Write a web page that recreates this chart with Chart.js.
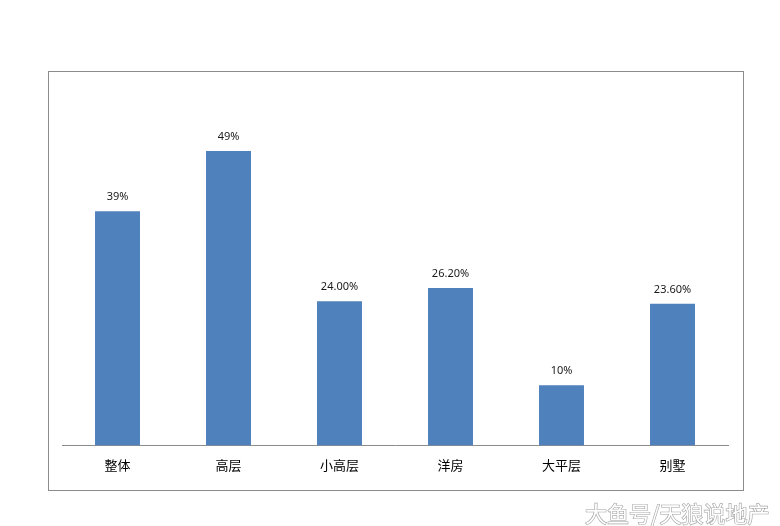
<!DOCTYPE html>
<html>
<head>
<meta charset="utf-8">
<script src="https://cdn.jsdelivr.net/npm/chart.js@4/dist/chart.umd.min.js"></script>
<style>
  html, body { margin: 0; padding: 0; background: #fff; }
  #wrap { position: relative; width: 780px; height: 526px; }
  #frame { position: absolute; left: 48px; top: 71px; width: 694px; height: 418px; border: 1px solid #8c8c8c; box-sizing: content-box; }
  canvas { position: absolute; left: 0; top: 0; }
</style>
</head>
<body>
<div id="wrap">
  <div id="frame"></div>
  <canvas id="chart" width="780" height="526"></canvas>
</div>
<script>
  const categories = ['整体', '高层', '小高层', '洋房', '大平层', '别墅'];
  const shares = [39, 49, 24.0, 26.2, 10, 23.6];
  const shareLabels = ['39%', '49%', '24.00%', '26.20%', '10%', '23.60%'];
  const watermark = '大鱼号/天狼说地产';

  const barLabels = {
    id: 'barLabels',
    afterDatasetsDraw(chart) {
      const ctx = chart.ctx;
      const meta = chart.getDatasetMeta(0);
      ctx.save();
      ctx.font = '11px "Noto Sans", "DejaVu Sans", sans-serif';
      ctx.fillStyle = '#1a1a1a';
      ctx.textAlign = 'center';
      ctx.textBaseline = 'middle';
      meta.data.forEach((bar, i) => {
        ctx.fillText(shareLabels[i], bar.x, bar.y - 14);
      });
      ctx.restore();
    },
    afterDraw(chart) {
      const ctx = chart.ctx;
      ctx.save();
      ctx.font = '22px "Noto Sans CJK SC", sans-serif';
      ctx.textAlign = 'left';
      ctx.textBaseline = 'middle';
      ctx.lineWidth = 1.2;
      ctx.strokeStyle = '#a0a0a0';
      ctx.strokeText(watermark, 585, 514);
      ctx.fillStyle = '#ffffff';
      ctx.fillText(watermark, 585, 514);
      ctx.restore();
    }
  };

  new Chart(document.getElementById('chart'), {
    type: 'bar',
    data: {
      labels: categories,
      datasets: [{
        data: shares,
        backgroundColor: '#4f81bd',
        barPercentage: 0.405,
        categoryPercentage: 1
      }]
    },
    options: {
      responsive: false,
      animation: false,
      layout: { padding: { left: 62, right: 52, top: 85, bottom: 41 } },
      plugins: { legend: { display: false }, tooltip: { enabled: false } },
      scales: {
        x: {
          grid: { display: false, drawTicks: false },
          border: { display: true, color: '#8c8c8c', width: 1 },
          ticks: { color: '#000', padding: 12, font: { size: 13, family: '"Noto Sans CJK SC", sans-serif' } }
        },
        y: {
          display: false,
          min: 0,
          max: 60
        }
      }
    },
    plugins: [barLabels]
  });
</script>
</body>
</html>
